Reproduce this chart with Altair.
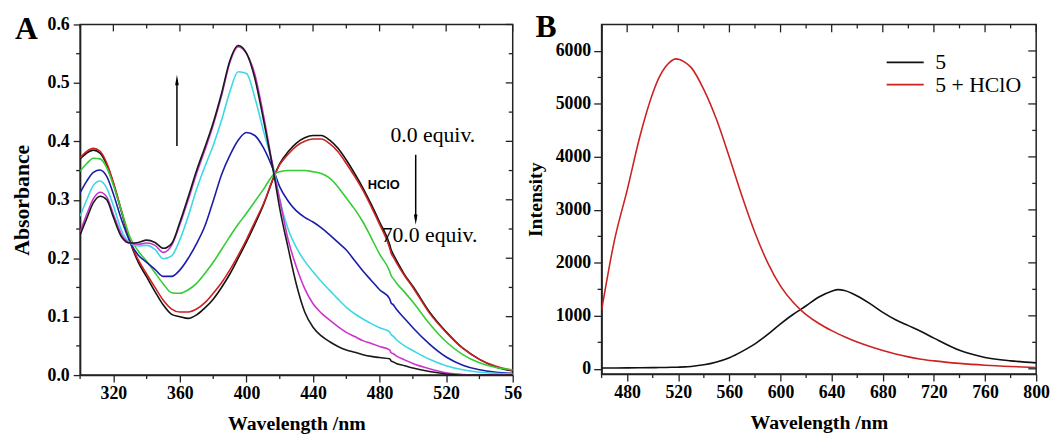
import altair as alt
import pandas as pd

# ---------------- Panel A: absorbance titration ----------------
WL_A = [300, 304, 308, 312, 316, 320, 325, 330, 335, 340, 345, 350, 355, 360, 365, 370,
        375, 380, 385, 390, 395, 400, 405, 410, 417, 420, 425, 430, 435, 440, 445, 450,
        455, 460, 465, 470, 475, 480, 486, 487, 488, 490, 495, 500, 510, 520, 530, 540,
        550, 560]

ABS_BLACK0 = [.370, .380, .385, .380, .360, .328, .278, .228, .193, .168, .143, .120, .104, .100, .097, .103,
              .115, .130, .150, .173, .200, .228, .258, .290, .343, .362, .382, .397, .406, .410, .410, .402,
              .388, .368, .345, .320, .292, .262, .224, .214, .208, .197, .172, .152, .108, .074, .046, .027,
              .014, .007]
ABS_RED = [.372, .383, .388, .383, .363, .330, .280, .229, .197, .173, .150, .128, .113, .108, .108, .113,
           .124, .140, .158, .180, .205, .232, .262, .292, .343, .360, .378, .392, .400, .404, .404, .396,
           .382, .362, .340, .316, .288, .258, .218, .208, .203, .193, .170, .150, .106, .073, .046, .027,
           .015, .008]
ABS_GREEN = [.349, .362, .371, .370, .355, .325, .280, .236, .212, .195, .175, .156, .141, .140, .146, .157,
             .174, .193, .215, .237, .258, .277, .297, .317, .345, .348, .350, .350, .350, .348, .345, .337,
             .322, .303, .284, .262, .235, .207, .178, .170, .166, .158, .142, .125, .088, .057, .035, .021,
             .013, .009]
ABS_BLUE = [.312, .332, .347, .351, .340, .310, .265, .228, .205, .193, .181, .169, .169, .180, .200, .225,
            .255, .298, .343, .376, .402, .415, .410, .390, .345, .322, .298, .281, .270, .262, .252, .240,
            .227, .214, .196, .178, .162, .146, .131, .123, .121, .113, .097, .081, .053, .031, .017, .009,
            .005, .003]
ABS_CYAN = [.272, .300, .325, .332, .320, .290, .247, .226, .221, .222, .215, .199, .204, .232, .272, .318,
            .357, .393, .436, .485, .519, .516, .475, .420, .345, .300, .250, .218, .195, .177, .160, .145,
            .130, .116, .105, .096, .088, .081, .074, .069, .067, .061, .050, .042, .027, .016, .009, .005,
            .003, .002]
ABS_MAGENTA = [.245, .275, .302, .313, .305, .275, .240, .226, .224, .226, .222, .210, .222, .258, .300, .345,
               .385, .428, .478, .535, .562, .550, .515, .448, .340, .300, .232, .185, .148, .122, .106, .094,
               .083, .073, .066, .059, .054, .049, .043, .038, .037, .033, .026, .020, .011, .004, .001, .000,
               .000, .000]
ABS_BLACK70 = [.240, .268, .295, .306, .300, .270, .236, .226, .227, .231, .227, .217, .225, .262, .305, .350,
               .390, .432, .482, .538, .564, .551, .508, .440, .335, .285, .218, .155, .108, .082, .067, .057,
               .049, .043, .039, .035, .032, .030, .028, .024, .023, .020, .016, .012, .006, .002, .000, .000,
               .000, .000]

SERIES_A = ["0.0 equiv.", "step 1", "step 2", "step 3", "step 4", "step 5", "70.0 equiv."]
VALUES_A = [ABS_BLACK0, ABS_RED, ABS_GREEN, ABS_BLUE, ABS_CYAN, ABS_MAGENTA, ABS_BLACK70]
COLORS_A = ["#111111", "#cc2222", "#33cc33", "#1c1cab", "#3cd8e4", "#cc33cc", "#1a1a1a"]

A_X_MAJOR = [320, 360, 400, 440, 480, 520, 560]
A_X_MINOR = [300, 340, 380, 420, 460, 500, 540]
A_Y_MAJOR = [0.0, 0.1, 0.2, 0.3, 0.4, 0.5, 0.6]
A_Y_MINOR = [0.05, 0.15, 0.25, 0.35, 0.45, 0.55]

# annotation texts (placed in data coordinates)
A_NOTE_TEXT = ["0.0 equiv.", "70.0 equiv."]
A_NOTE_WL = [512, 510]
A_NOTE_ABS = [0.410, 0.240]
A_HCLO_WL = [482.5]
A_HCLO_ABS = [0.3245]
ARROW_UP = {"wl": 358.2, "from": 0.392, "to": 0.505}
ARROW_DOWN = {"wl": 501.7, "from": 0.377, "to": 0.266}

# ---------------- Panel B: fluorescence ----------------
WL_B = [460, 470, 480, 490, 500, 505, 510, 515, 518, 521, 525, 530, 540, 550, 560, 570, 580, 590,
        600, 610, 617, 620, 630, 640, 645, 650, 660, 670, 680, 690, 700, 710, 720, 740, 760, 780, 800]
INT_PROBE = [15, 16, 18, 20, 22, 24, 26, 28, 30, 32, 36, 45, 75, 130, 210, 330, 470, 650,
             850, 1030, 1140, 1190, 1355, 1465, 1495, 1480, 1375, 1230, 1065, 925, 815, 705, 580, 350, 215, 150, 112]
INT_HCLO = [1106, 2420, 3373, 4390, 5200, 5500, 5700, 5820, 5850, 5840, 5790, 5690, 5270, 4700, 3990, 3250, 2570, 2000,
            1560, 1250, 1085, 1025, 855, 720, 660, 605, 505, 420, 345, 280, 225, 182, 150, 102, 68, 44, 26]
SERIES_B = ["5", "5 + HClO"]
COLORS_B = ["#111111", "#d42020"]

B_X_MAJOR = [480, 520, 560, 600, 640, 680, 720, 760, 800]
B_X_MINOR = [460, 500, 540, 580, 620, 660, 700, 740, 780]
B_Y_MAJOR = [0, 1000, 2000, 3000, 4000, 5000, 6000]
B_Y_MINOR = [500, 1500, 2500, 3500, 4500, 5500]

LEGEND_WL = [683, 712]
LEGEND_LABEL_WL = 721
LEGEND_Y = [5785, 5365]

# ---------------- layout constants ----------------
WA, HA = 438, 355
WB, HB = 440, 354
SERIF = "Liberation Serif"
SANS = "Liberation Sans"
TC = "#222222"


def axis(values, title, fmt=None, label_expr=None, tick=7, lpad=3, tpad=10, title_size=20):
    kw = dict(values=values, title=title, grid=False, tickSize=tick, tickWidth=1.3, tickColor=TC,
              domainColor=TC, domainWidth=1.5, labelFont=SERIF, labelFontWeight="bold",
              labelFontSize=18, labelColor="black", labelPadding=lpad, titleFont=SERIF,
              titleFontWeight="bold", titleFontSize=title_size, titleColor="black",
              titlePadding=tpad, labelFlush=False, labelOverlap=False)
    if fmt:
        kw["format"] = fmt
    if label_expr:
        kw["labelExpr"] = label_expr
    return alt.Axis(**kw)


AX_A_X = axis(A_X_MAJOR, "Wavelength /nm", label_expr="datum.value == 560 ? '56' : datum.label",
              tick=7, lpad=3, tpad=11)
AX_A_Y = axis(A_Y_MAJOR, "Absorbance", fmt=".1f", tick=7, lpad=4, tpad=14, title_size=22)
AX_B_X = axis(B_X_MAJOR, "Wavelength /nm", tick=7, lpad=3, tpad=11)
AX_B_Y = axis(B_Y_MAJOR, "Intensity", fmt="d", tick=8, lpad=3, tpad=10)


def tick_layers(xs, ys, xax, yax, xmaj, xmin, ymaj, ymin, W, H, big=7, small=4):
    out = []
    base = dict(color=TC, strokeWidth=1.3)
    dxmaj = pd.DataFrame({"v": xmaj})
    dxmin = pd.DataFrame({"v": xmin})
    dymaj = pd.DataFrame({"v": ymaj})
    dymin = pd.DataFrame({"v": ymin})
    X = alt.X("v:Q", scale=xs, axis=xax)
    Y = alt.Y("v:Q", scale=ys, axis=yax)
    # bottom minor (outward)
    out.append(alt.Chart(dxmin).mark_rule(**base).encode(x=X, y=alt.value(H), y2=alt.value(H + small)))
    # top mirrored (inward)
    out.append(alt.Chart(dxmaj).mark_rule(**base).encode(x=X, y=alt.value(0), y2=alt.value(big)))
    out.append(alt.Chart(dxmin).mark_rule(**base).encode(x=X, y=alt.value(0), y2=alt.value(small)))
    # left minor (outward)
    out.append(alt.Chart(dymin).mark_rule(**base).encode(y=Y, x=alt.value(0), x2=alt.value(-small)))
    # right mirrored (inward)
    out.append(alt.Chart(dymaj).mark_rule(**base).encode(y=Y, x=alt.value(W), x2=alt.value(W - big)))
    out.append(alt.Chart(dymin).mark_rule(**base).encode(y=Y, x=alt.value(W), x2=alt.value(W - small)))
    return out


# ---------- Panel A chart ----------
rows = []
for name, vals in zip(SERIES_A, VALUES_A):
    for i, (w, a) in enumerate(zip(WL_A, vals)):
        rows.append({"series": name, "wl": w, "a": a, "k": i})
df_a = pd.DataFrame(rows)

xs_a = alt.Scale(domain=[300, 560], nice=False, zero=False)
ys_a = alt.Scale(domain=[0, 0.6], nice=False, zero=False)
XA = alt.X("wl:Q", scale=xs_a, axis=AX_A_X)
YA = alt.Y("a:Q", scale=ys_a, axis=AX_A_Y)

lines_a = alt.Chart(df_a).mark_line(strokeWidth=1.6, interpolate="monotone", clip=True).encode(
    x=XA, y=YA,
    color=alt.Color("series:N", scale=alt.Scale(domain=SERIES_A, range=COLORS_A), legend=None),
    order=alt.Order("k:Q"),
)

notes_a = alt.Chart(pd.DataFrame({"t": A_NOTE_TEXT, "wl": A_NOTE_WL, "a": A_NOTE_ABS})).mark_text(
    font=SERIF, fontSize=22, color="black", align="center", baseline="middle").encode(
    x=XA, y=YA, text="t:N")

hclo_a = alt.Chart(pd.DataFrame({"t": ["HClO"], "wl": A_HCLO_WL, "a": A_HCLO_ABS})).mark_text(
    font=SANS, fontSize=13, fontWeight="bold", color="black", align="center", baseline="middle").encode(
    x=XA, y=YA, text="t:N")

arrow_df = pd.DataFrame({
    "wl": [ARROW_UP["wl"], ARROW_DOWN["wl"]],
    "a": [ARROW_UP["from"], ARROW_DOWN["from"]],
    "a2": [ARROW_UP["to"], ARROW_DOWN["to"]],
})
arrow_shafts = alt.Chart(arrow_df).mark_rule(color="black", strokeWidth=1.5).encode(
    x=XA, y=YA, y2="a2:Q")
head_up = alt.Chart(pd.DataFrame({"wl": [ARROW_UP["wl"]], "a": [ARROW_UP["to"]]})).mark_point(
    shape="M0,-1L0.35,1L-0.35,1Z", filled=True, color="black", opacity=1, size=110).encode(x=XA, y=YA)
head_down = alt.Chart(pd.DataFrame({"wl": [ARROW_DOWN["wl"]], "a": [ARROW_DOWN["to"]]})).mark_point(
    shape="M0,1L0.35,-1L-0.35,-1Z", filled=True, color="black", opacity=1, size=110).encode(x=XA, y=YA)

letter_a = alt.Chart(pd.DataFrame({"t": ["A"]})).mark_text(
    font=SERIF, fontSize=32, fontWeight="bold", color="black", align="left", baseline="alphabetic").encode(
    text="t:N", x=alt.value(-66), y=alt.value(15))

panel_a = alt.layer(
    lines_a, *tick_layers(xs_a, ys_a, AX_A_X, AX_A_Y, A_X_MAJOR, A_X_MINOR, A_Y_MAJOR, A_Y_MINOR, WA, HA),
    notes_a, hclo_a, arrow_shafts, head_up, head_down, letter_a,
).properties(width=WA, height=HA)

# ---------- Panel B chart ----------
rows = []
for name, vals in zip(SERIES_B, [INT_PROBE, INT_HCLO]):
    for i, (w, v) in enumerate(zip(WL_B, vals)):
        rows.append({"series": name, "wl": w, "i": v, "k": i})
df_b = pd.DataFrame(rows)

xs_b = alt.Scale(domain=[460, 800], nice=False, zero=False)
ys_b = alt.Scale(domain=[-100, 6500], nice=False, zero=False)
XB = alt.X("wl:Q", scale=xs_b, axis=AX_B_X)
YB = alt.Y("i:Q", scale=ys_b, axis=AX_B_Y)
CB = alt.Color("series:N", scale=alt.Scale(domain=SERIES_B, range=COLORS_B), legend=None)

lines_b = alt.Chart(df_b).mark_line(strokeWidth=1.6, interpolate="monotone", clip=True).encode(
    x=XB, y=YB, color=CB, order=alt.Order("k:Q"),
)

leg_df = pd.DataFrame({"series": SERIES_B, "wl": [LEGEND_WL[0]] * 2, "w2": [LEGEND_WL[1]] * 2,
                       "i": LEGEND_Y})
leg_lines = alt.Chart(leg_df).mark_rule(strokeWidth=1.6).encode(x=XB, x2="w2:Q", y=YB, color=CB)
leg_df2 = pd.DataFrame({"series": SERIES_B, "wl": [LEGEND_LABEL_WL] * 2, "i": LEGEND_Y})
leg_text = alt.Chart(leg_df2).mark_text(font=SERIF, fontSize=22, color="black", align="left",
                                        baseline="middle").encode(x=XB, y=YB, text="series:N")

letter_b = alt.Chart(pd.DataFrame({"t": ["B"]})).mark_text(
    font=SERIF, fontSize=32, fontWeight="bold", color="black", align="left", baseline="alphabetic").encode(
    text="t:N", x=alt.value(-67), y=alt.value(13))

panel_b = alt.layer(
    lines_b, *tick_layers(xs_b, ys_b, AX_B_X, AX_B_Y, B_X_MAJOR, B_X_MINOR, B_Y_MAJOR, B_Y_MINOR, WB, HB, big=8),
    leg_lines, leg_text, letter_b,
).properties(width=WB, height=HB)

chart = alt.hconcat(panel_a, panel_b, spacing=90, bounds="flush").configure_view(
    stroke=TC, strokeWidth=1.5
).properties(
    padding={"left": 1, "top": 0, "right": 0, "bottom": 0},
    background="white",
)

chart.save("out.html", embed_options={"renderer": "svg", "actions": False})
